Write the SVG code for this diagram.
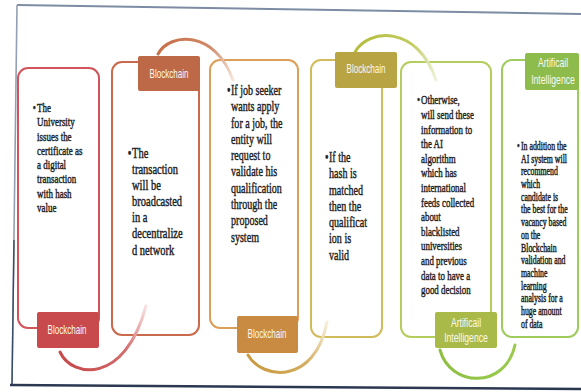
<svg xmlns="http://www.w3.org/2000/svg" width="581" height="392" viewBox="0 0 581 392">
<style>
.t{font-family:"Liberation Serif","Times New Roman",serif;fill:#1e1e1e;stroke:#1e1e1e;stroke-width:0.45}
.l{font-family:"Liberation Sans",Arial,sans-serif;fill:#fbf8f0;font-size:12px;text-anchor:middle}
.box{fill:#fff;stroke-width:2}
.arc{fill:none;stroke-width:3;stroke-linecap:round}
</style>
<defs>
<linearGradient id="gA" gradientUnits="userSpaceOnUse" x1="60" y1="352" x2="146" y2="306"><stop offset="0" stop-color="#c84a4c"/><stop offset="0.6" stop-color="#d46a6c"/><stop offset="1" stop-color="#f8e2e2"/></linearGradient>
<linearGradient id="gB" gradientUnits="userSpaceOnUse" x1="158" y1="54" x2="233" y2="80"><stop offset="0" stop-color="#c8704a"/><stop offset="0.6" stop-color="#d08a68"/><stop offset="1" stop-color="#f6e6dc"/></linearGradient>
<linearGradient id="gC" gradientUnits="userSpaceOnUse" x1="248" y1="355" x2="327" y2="322"><stop offset="0" stop-color="#c99a40"/><stop offset="0.6" stop-color="#d4ae60"/><stop offset="1" stop-color="#f6eed8"/></linearGradient>
<linearGradient id="gD" gradientUnits="userSpaceOnUse" x1="355" y1="52" x2="436" y2="80"><stop offset="0" stop-color="#b5bd3e"/><stop offset="0.6" stop-color="#c2cc60"/><stop offset="1" stop-color="#eef2dc"/></linearGradient>
<linearGradient id="gE" gradientUnits="userSpaceOnUse" x1="440" y1="350" x2="515" y2="345"><stop offset="0" stop-color="#8cbf40"/><stop offset="1" stop-color="#9acb50"/></linearGradient>
</defs>
<rect width="581" height="392" fill="#fff"/>
<g id="frame" fill="none">
<line x1="17" y1="5" x2="581" y2="14" stroke="#7d8ca4" stroke-width="2"/>
<line x1="17" y1="5" x2="12" y2="386" stroke="#93a0b4" stroke-width="1.6"/>
<line x1="14" y1="240" x2="12" y2="386" stroke="#3a4a6a" stroke-width="1.4"/>
<line x1="10" y1="385" x2="581" y2="389" stroke="#2c3752" stroke-width="2.5"/>
</g>
<g id="n1">
<rect class="box" x="18" y="68" width="81" height="260" rx="10" stroke="#d2555b"/>
<g transform="translate(37,0) scale(0.69,1)"><text class="t" font-size="13"><tspan x="-6" y="112">•</tspan><tspan x="0" y="112">The</tspan><tspan x="0" y="126.3">University</tspan><tspan x="0" y="140.6">issues the</tspan><tspan x="0" y="154.9">certificate as</tspan><tspan x="0" y="169.2">a digital</tspan><tspan x="0" y="183.5">transaction</tspan><tspan x="0" y="197.8">with hash</tspan><tspan x="0" y="212.1">value</tspan></text></g>
</g>
<g id="n2">
<rect class="box" x="112" y="62" width="87" height="273" rx="10" stroke="#c96a4c"/>
<g transform="translate(132,0) scale(0.7,1)"><text class="t" font-size="15"><tspan x="-6" y="158">•</tspan><tspan x="0" y="158">The</tspan><tspan x="0" y="174.1">transaction</tspan><tspan x="0" y="190.2">will be</tspan><tspan x="0" y="206.3">broadcasted</tspan><tspan x="0" y="222.4">in a</tspan><tspan x="0" y="238.5">decentralize</tspan><tspan x="0" y="254.6">d network</tspan></text></g>
</g>
<g id="n3">
<rect class="box" x="210" y="60" width="88" height="268" rx="10" stroke="#dc9f5a"/>
<g transform="translate(231,0) scale(0.65,1)"><text class="t" font-size="15.5"><tspan x="-6" y="95">•</tspan><tspan x="0" y="95">If job seeker</tspan><tspan x="0" y="111.3">wants apply</tspan><tspan x="0" y="127.6">for a job, the</tspan><tspan x="0" y="143.9">entity will</tspan><tspan x="0" y="160.2">request to</tspan><tspan x="0" y="176.5">validate his</tspan><tspan x="0" y="192.8">qualification</tspan><tspan x="0" y="209.1">through the</tspan><tspan x="0" y="225.4">proposed</tspan><tspan x="0" y="241.7">system</tspan></text></g>
</g>
<g id="n4">
<rect class="box" x="311" y="60" width="71" height="277" rx="10" stroke="#d2bb5a"/>
<g transform="translate(329,0) scale(0.65,1)"><text class="t" font-size="15.5"><tspan x="-6" y="162">•</tspan><tspan x="0" y="162">If the</tspan><tspan x="0" y="178.3">hash is</tspan><tspan x="0" y="194.6">matched</tspan><tspan x="0" y="210.9">then the</tspan><tspan x="0" y="227.2">qualificat</tspan><tspan x="0" y="243.5">ion is</tspan><tspan x="0" y="259.8">valid</tspan></text></g>
</g>
<g id="n5">
<rect class="box" x="401" y="62" width="90" height="275" rx="10" stroke="#b5cd5c"/>
<g transform="translate(421,0) scale(0.66,1)"><text class="t" font-size="13.5"><tspan x="-6" y="104.5">•</tspan><tspan x="0" y="104.5">Otherwise,</tspan><tspan x="0" y="119.1">will send these</tspan><tspan x="0" y="133.7">information to</tspan><tspan x="0" y="148.3">the AI</tspan><tspan x="0" y="162.9">algorithm</tspan><tspan x="0" y="177.5">which has</tspan><tspan x="0" y="192.1">international</tspan><tspan x="0" y="206.7">feeds collected</tspan><tspan x="0" y="221.3">about</tspan><tspan x="0" y="235.9">blacklisted</tspan><tspan x="0" y="250.5">universities</tspan><tspan x="0" y="265.1">and previous</tspan><tspan x="0" y="279.7">data to have a</tspan><tspan x="0" y="294.3">good decision</tspan></text></g>
</g>
<g id="n6">
<rect class="box" x="502" y="60" width="76" height="277" rx="10" stroke="#9dcb5c"/>
<g transform="translate(521,0) scale(0.68,1)"><text class="t" font-size="11.5"><tspan x="-6" y="150">•</tspan><tspan x="0" y="150">In addition the</tspan><tspan x="0" y="162.7">AI system will</tspan><tspan x="0" y="175.4">recommend</tspan><tspan x="0" y="188.1">which</tspan><tspan x="0" y="200.8">candidate is</tspan><tspan x="0" y="213.5">the best for the</tspan><tspan x="0" y="226.2">vacancy based</tspan><tspan x="0" y="238.9">on the</tspan><tspan x="0" y="251.6">Blockchain</tspan><tspan x="0" y="264.3">validation and</tspan><tspan x="0" y="277">machine</tspan><tspan x="0" y="289.7">learning</tspan><tspan x="0" y="302.4">analysis for a</tspan><tspan x="0" y="315.1">huge amount</tspan><tspan x="0" y="327.8">of data</tspan></text></g>
</g>
<g id="connectors">
<path class="arc" d="M60,352 C72,378 125,385 146,306" stroke="url(#gA)"/>
<path class="arc" d="M158,54 C170,32 215,30 233,80" stroke="url(#gB)"/>
<path class="arc" d="M248,355 C262,380 315,385 327,322" stroke="url(#gC)"/>
<path class="arc" d="M355,52 C368,28 418,25 436,80" stroke="url(#gD)"/>
<path class="arc" d="M440,350 C450,387 505,390 515,345" stroke="url(#gE)"/>
</g>
<g id="label1"><rect x="37" y="312" width="62" height="36" rx="2" fill="#c84a4c"/><text class="l" transform="translate(67,334) scale(0.67,1)">Blockchain</text></g>
<g id="label2"><rect x="138" y="56" width="62" height="35" rx="2" fill="#bd6847"/><text class="l" transform="translate(169,78) scale(0.67,1)">Blockchain</text></g>
<g id="label3"><rect x="237" y="316" width="61" height="37" rx="2" fill="#c98a42"/><text class="l" transform="translate(267,338) scale(0.67,1)">Blockchain</text></g>
<g id="label4"><rect x="335" y="52" width="62" height="36" rx="2" fill="#b9a444"/><text class="l" transform="translate(366,73) scale(0.67,1)">Blockchain</text></g>
<g id="label5"><rect x="435" y="312" width="62" height="36" rx="2" fill="#a9ba48"/><text class="l" transform="translate(466,326.5) scale(0.72,1)" font-size="11.5">Artificail</text><text class="l" transform="translate(466,342) scale(0.72,1)" font-size="11.5">Intelligence</text></g>
<g id="label6"><rect x="525" y="53" width="54" height="37" rx="2" fill="#8dbc4c"/><text class="l" transform="translate(553,67) scale(0.72,1)" font-size="11.5">Artificail</text><text class="l" transform="translate(553,83.5) scale(0.72,1)" font-size="11.5">Intelligence</text></g>
</svg>
